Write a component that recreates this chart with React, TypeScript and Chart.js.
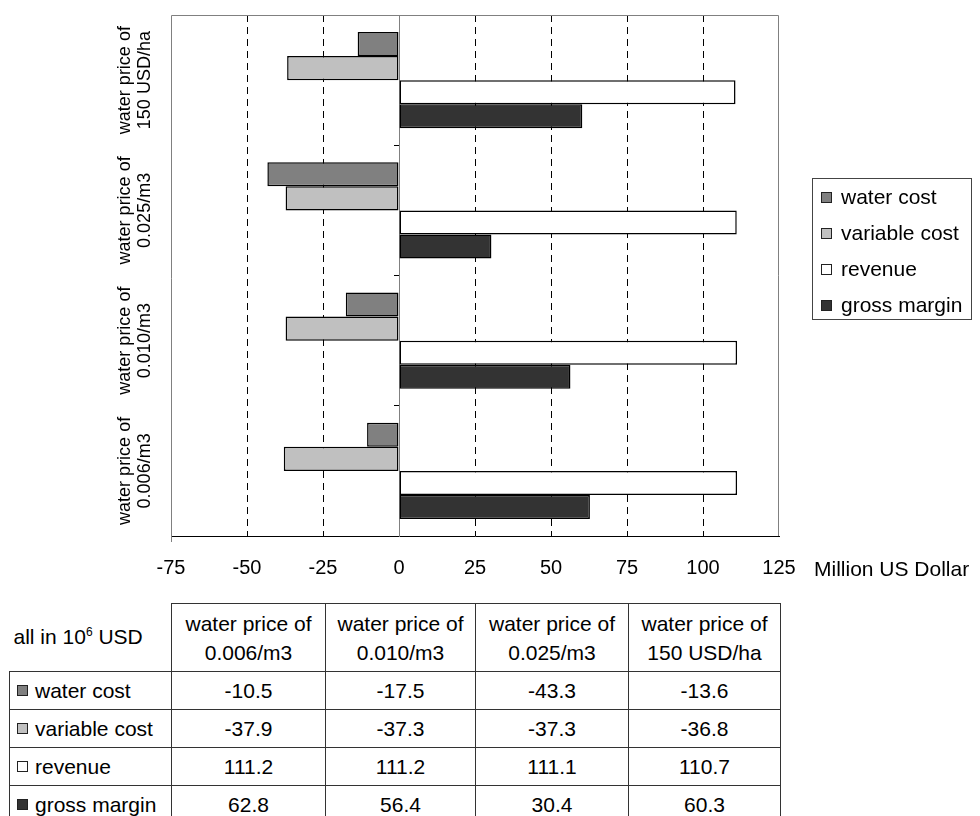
import React, { useEffect, useRef } from "react";
import { Chart, registerables } from "chart.js";

Chart.register(...registerables);

// ---- data ----
const categoryLines: string[][] = [
  ["water price of", "0.006/m3"],
  ["water price of", "0.010/m3"],
  ["water price of", "0.025/m3"],
  ["water price of", "150 USD/ha"],
];
const categories = categoryLines.map((l) => l.join(" "));
const seriesNames = ["water cost", "variable cost", "revenue", "gross margin"];
const waterCost = [-10.5, -17.5, -43.3, -13.6];
const variableCost = [-37.9, -37.3, -37.3, -36.8];
const revenue = [111.2, 111.2, 111.1, 110.7];
const grossMargin = [62.8, 56.4, 30.4, 60.3];
const xMin = -75;
const xMax = 125;
const xStep = 25;
const xAxisTitle = "Million US Dollar";
const tableCorner = ["all in 10", "6", " USD"];

const seriesValues = [waterCost, variableCost, revenue, grossMargin];
const seriesColors = ["#808080", "#c0c0c0", "#ffffff", "#333333"];

const FONT = "'Liberation Sans', Arial, sans-serif";

const customPlugin = {
  id: "customDecor",
  beforeDatasetsDraw(chart: any) {
    const { ctx, chartArea } = chart;
    const { left, top, right, bottom } = chartArea;
    ctx.save();
    ctx.strokeStyle = "#808080";
    ctx.lineWidth = 1;
    ctx.beginPath();
    ctx.moveTo(left + 0.5, bottom + 6);
    ctx.lineTo(left + 0.5, top + 0.5);
    ctx.lineTo(right - 0.5, top + 0.5);
    ctx.lineTo(right - 0.5, bottom);
    ctx.stroke();
    ctx.restore();
  },
  afterDraw(chart: any) {
    const { ctx } = chart;
    const yScale = chart.scales.y;
    const lineX = [125, 145];
    ctx.save();
    ctx.font = `18px ${FONT}`;
    ctx.fillStyle = "#000";
    ctx.textAlign = "center";
    ctx.textBaseline = "middle";
    categoryLines.forEach((lines, i) => {
      const y = yScale.getPixelForTick(i);
      lines.forEach((line, j) => {
        ctx.save();
        ctx.translate(lineX[j], y);
        ctx.rotate(-Math.PI / 2);
        ctx.fillText(line, 0, 0);
        ctx.restore();
      });
    });
    ctx.restore();
  },
};

function ChartCanvas() {
  const ref = useRef<HTMLCanvasElement | null>(null);
  useEffect(() => {
    if (!ref.current) return;
    const chart = new Chart(ref.current, {
      type: "bar",
      data: {
        labels: categories,
        datasets: seriesNames.map((name, i) => ({
          label: name,
          data: seriesValues[i],
          backgroundColor: seriesColors[i],
          borderColor: "#000",
          borderWidth: 1.5,
          borderSkipped: false,
          categoryPercentage: 0.738,
          barPercentage: 1,
        })),
      },
      options: {
        indexAxis: "y",
        animation: false,
        responsive: false,
        maintainAspectRatio: false,
        layout: { padding: { left: 171, top: 15, right: 201, bottom: 0 } },
        plugins: {
          legend: { display: false },
          tooltip: { enabled: false },
        },
        scales: {
          x: {
            type: "linear",
            position: "bottom",
            min: xMin,
            max: xMax,
            ticks: {
              stepSize: xStep,
              color: "#000",
              font: { family: FONT, size: 20 },
              padding: 20,
            },
            grid: {
              color: (c: any) => {
                const v = c.tick ? c.tick.value : null;
                return v === xMin || v === 0 || v === xMax ? "rgba(0,0,0,0)" : "#000";
              },
              lineWidth: 1,
              drawTicks: false,
            },
            border: { display: true, color: "#000", width: 1, dash: [7, 5] },
            afterFit: (s: any) => {
              s.height = 64;
            },
          },
          y: {
            type: "category",
            reverse: true,
            position: { x: 0 } as any,
            offset: true,
            ticks: { display: false },
            grid: {
              offset: true,
              drawOnChartArea: false,
              drawTicks: true,
              tickLength: 5,
              color: "#000",
            },
            border: { display: true, color: "#808080", width: 1 },
          },
        },
      },
      plugins: [customPlugin],
    } as any);
    return () => chart.destroy();
  }, []);
  return <canvas ref={ref} width={980} height={600} style={{ position: "absolute", left: 0, top: 0, display: "block" }} />;
}

const swatch = (color: string, size: number) => (
  <span
    style={{
      display: "inline-block",
      width: size,
      height: size,
      minWidth: size,
      minHeight: size,
      background: color,
      border: "1px solid #222",
      boxSizing: "border-box",
      flex: "none",
    }}
  />
);

export default function App() {
  const border = "1px solid #333";
  const colWidths = [162, 154, 150, 153, 152];
  return (
    <div style={{ position: "absolute", left: 0, top: 0, width: 980, height: 816, background: "#fff", fontFamily: FONT, color: "#000" }}>
      <ChartCanvas />
      <div style={{ position: "absolute", left: 814, top: 557, fontSize: 21, lineHeight: "24px", whiteSpace: "nowrap" }}>{xAxisTitle}</div>
      <div
        style={{
          position: "absolute",
          left: 812,
          top: 178,
          width: 160,
          height: 142,
          border: "1px solid #444",
          boxSizing: "border-box",
          background: "#fff",
        }}
      >
        {seriesNames.map((name, i) => (
          <div
            key={name}
            style={{
              position: "absolute",
              left: 8,
              top: i * 36,
              height: 36,
              display: "flex",
              alignItems: "center",
              fontSize: 21,
              whiteSpace: "nowrap",
            }}
          >
            {swatch(seriesColors[i], 11)}
            <span style={{ marginLeft: 9 }}>{name}</span>
          </div>
        ))}
      </div>
      <table
        style={{
          position: "absolute",
          left: 9,
          top: 603,
          borderCollapse: "collapse",
          tableLayout: "fixed",
          fontSize: 21,
          fontFamily: FONT,
        }}
      >
        <colgroup>
          {colWidths.map((w, i) => (
            <col key={i} style={{ width: w }} />
          ))}
        </colgroup>
        <tbody>
          <tr style={{ height: 68 }}>
            <td style={{ borderRight: border, borderBottom: border, padding: "0 0 0 4px", textAlign: "left", verticalAlign: "middle", whiteSpace: "nowrap" }}>
              {tableCorner[0]}
              <sup style={{ fontSize: 12, verticalAlign: "8px" }}>{tableCorner[1]}</sup>
              {tableCorner[2]}
            </td>
            {categoryLines.map((l, i) => (
              <td key={i} style={{ border, padding: 0, textAlign: "center", lineHeight: "29px", verticalAlign: "middle" }}>
                {l[0]}
                <br />
                {l[1]}
              </td>
            ))}
          </tr>
          {seriesNames.map((name, si) => (
            <tr key={name} style={{ height: 38 }}>
              <td style={{ border, padding: "0 0 0 7px", whiteSpace: "nowrap", verticalAlign: "middle" }}>
                <div style={{ display: "flex", alignItems: "center" }}>
                  {swatch(seriesColors[si], 11)}
                  <span style={{ marginLeft: 7 }}>{name}</span>
                </div>
              </td>
              {seriesValues[si].map((v, ci) => (
                <td key={ci} style={{ border, padding: 0, textAlign: "center", verticalAlign: "middle" }}>
                  {v.toFixed(1)}
                </td>
              ))}
            </tr>
          ))}
        </tbody>
      </table>
    </div>
  );
}
